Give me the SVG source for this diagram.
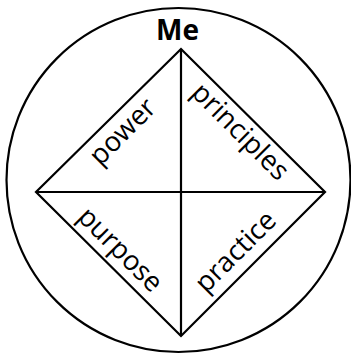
<svg xmlns="http://www.w3.org/2000/svg" width="351" height="358" viewBox="0 0 351 358">
<style>
.ln{fill:none;stroke:#000;stroke-width:2.2}
.lb{font-family:"Open Sans","DejaVu Sans",sans-serif;font-size:27.5px;fill:#000;text-anchor:middle}
.me{font-family:"Open Sans","DejaVu Sans",sans-serif;font-size:28px;font-weight:bold;fill:#000;text-anchor:middle}
</style>
<rect width="351" height="358" fill="#fff"/>
<g id="circle"><circle class="ln" cx="178.5" cy="180" r="172"/></g>
<g id="connectors">
<polygon class="ln" points="181,49 325,192 181,336 36,192"/>
<line class="ln" x1="181" y1="49" x2="181" y2="336"/>
<line class="ln" x1="36" y1="192" x2="325" y2="192"/>
</g>
<g id="me"><text class="me" x="177.5" y="40">Me</text></g>
<g id="power"><text class="lb" transform="translate(129,138) rotate(-45)">power</text></g>
<g id="principles"><text class="lb" transform="translate(234,138) rotate(45)">principles</text></g>
<g id="purpose"><text class="lb" transform="translate(114,256) rotate(45)">purpose</text></g>
<g id="practice"><text class="lb" transform="translate(242,258) rotate(-45)">practice</text></g>
</svg>
